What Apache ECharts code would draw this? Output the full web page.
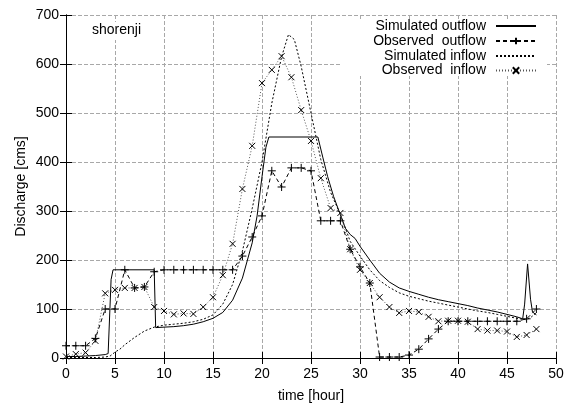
<!DOCTYPE html>
<html>
<head>
<meta charset="utf-8">
<script src="https://cdn.jsdelivr.net/npm/echarts@6/dist/echarts.min.js"></script>
<style>html,body{margin:0;padding:0;background:#fff;}#c{width:564px;height:405px;}</style>
</head>
<body>
<div id="c"></div>
<script>
var seriesNames = ['Simulated outflow', 'Observed  outflow', 'Simulated inflow', 'Observed  inflow'];
var xTicks = [0, 5, 10, 15, 20, 25, 30, 35, 40, 45, 50];
var yTicks = [0, 100, 200, 300, 400, 500, 600, 700];

var simOutT = [0,1,2,3,4,4.3,4.6,4.8,9.0,9.15,10,11,12,13,14,15,16,17,18,19,19.5,20,20.4,20.7,25.7,26.2,26.7,27.3,28,28.5,29,29.5,30,31,32,33,34,35,36,37,38,39,40,41,42,43,44,45,46,46.6,46.8,47.1,47.4,47.6,48];
var simOutV = [3,3,4,5,7,9,160,180,180,62,63,64,66,69,74,81,93,118,163,235,290,370,430,451,451,410,370,330,292,265,252,244,228,200,173,155,143,136,130,124,119,115,111,107,102,98,94,89,84,80,110,192,120,94,88];

var simInT = [0,1,2,3,4,4.5,5,5.5,6,7,8,9,10,11,12,13,14,15,16,17,18,19,20,21,22,22.7,23.3,24,25,26,27,28,29,30,31,32,33,34,35,36,37,38,39,40,41,42,43,44,45,46,47,47.5,48];
var simInV = [1,1,1,1,2,4,12,18,27,42,55,63,67,69,71,74,79,88,110,150,218,305,400,520,615,660,650,595,500,405,338,293,238,208,180,158,144,133,126,121,116,112,108,104,100,96,93,89,85,81,78,84,92];

var obsHours = [0,1,2,3,4,5,6,7,8,9,10,11,12,13,14,15,16,17,18,19,20,21,22,23,24,25,26,27,28,29,30,31,32,33,34,35,36,37,38,39,40,41,42,43,44,45,46,47,48];
var obsOut = [25,25,25,40,100,100,180,143,145,176,180,180,180,180,180,180,180,180,208,247,290,382,349,388,388,382,280,280,280,222,186,153,2,2,2,6,18,39,59,75,75,75,75,75,75,75,75,80,100];
var obsIn = [3,8,11,35,132,139,143,143,145,104,96,89,91,90,104,124,169,233,345,433,561,588,616,573,506,443,367,306,296,222,180,153,124,104,92,96,94,84,75,76,76,74,59,56,56,54,43,47,59];

function pairs(t, v) { return t.map(function (x, i) { return [x, v[i]]; }); }

var FONT = '"Liberation Sans", Arial, Helvetica, sans-serif';
var plus = 'path://M5,0L5,10M0,5L10,5';
var cross = 'path://M0,0L10,10M10,0L0,10';

var chart = echarts.init(document.getElementById('c'), null, {renderer: 'canvas'});
var axisCommon = {
  min: 0,
  axisLine: {show: true, lineStyle: {color: '#000', width: 1}},
  axisTick: {show: true, inside: true, length: 6, lineStyle: {color: '#000'}},
  axisLabel: {color: '#000', fontSize: 14, fontFamily: FONT}
};
function legendFor(name, top, hideSymbol) {
  var l = {
    data: [name], orient: 'vertical', right: 27, top: top, padding: 0,
    align: 'right', itemWidth: 40, itemHeight: 8, selectedMode: false,
    textStyle: {color: '#000', fontSize: 14, fontFamily: FONT, padding: [0, 5, 0, 0]}
  };
  if (hideSymbol) {
    l.itemStyle = {color: 'transparent', borderColor: 'transparent', borderWidth: 0};
  }
  return l;
}
var option = {
  animation: false,
  backgroundColor: '#fff',
  textStyle: {fontFamily: FONT},
  grid: {left: 66, right: 8, top: 15, bottom: 47, containLabel: false, outerBoundsMode: 'none'},
  graphic: [
    {type: 'rect', z: 1, shape: {x: 342, y: 20, width: 205, height: 56}, style: {fill: '#fff'}},
    {type: 'text', z: 3, left: 90, top: 22, style: {text: 'shorenji', fill: '#000', font: '14px ' + FONT, backgroundColor: '#fff', padding: [1, 2, 3, 2]}}
  ],
  legend: [
    legendFor(seriesNames[0], 19, true),
    legendFor(seriesNames[1], 34, false),
    legendFor(seriesNames[2], 49, true),
    legendFor(seriesNames[3], 63.5, false)
  ],
  xAxis: [
    Object.assign({}, axisCommon, {
      type: 'value', max: 50, interval: 5, position: 'bottom',
      name: 'time [hour]', nameLocation: 'middle', nameGap: 31,
      nameTextStyle: {color: '#000', fontSize: 14, fontFamily: FONT},
      axisLabel: Object.assign({}, axisCommon.axisLabel, {margin: 9, formatter: function (v) { return xTicks.indexOf(v) >= 0 ? String(v) : ''; }}),
      splitLine: {show: true, lineStyle: {color: '#a8a8a8', type: [4, 2], width: 1}}
    }),
    Object.assign({}, axisCommon, {
      type: 'value', max: 50, interval: 5, position: 'top',
      axisLabel: {show: false}, splitLine: {show: false}
    })
  ],
  yAxis: [
    Object.assign({}, axisCommon, {
      type: 'value', max: 700, interval: 100, position: 'left',
      name: 'Discharge [cms]', nameLocation: 'middle', nameGap: 38, nameRotate: 90, nameMoveOverlap: false,
      nameTextStyle: {color: '#000', fontSize: 14, fontFamily: FONT},
      axisLabel: Object.assign({}, axisCommon.axisLabel, {margin: 7, formatter: function (v) { return yTicks.indexOf(v) >= 0 ? String(v) : ''; }}),
      splitLine: {show: true, lineStyle: {color: '#a8a8a8', type: [4, 2], width: 1}}
    }),
    Object.assign({}, axisCommon, {
      type: 'value', max: 700, interval: 100, position: 'right',
      axisLabel: {show: false}, splitLine: {show: false}
    })
  ],
  series: [
    {
      name: seriesNames[0], type: 'line', xAxisIndex: 0, yAxisIndex: 0,
      data: pairs(simOutT, simOutV), showSymbol: false, symbol: 'none',
      lineStyle: {color: '#000', width: 1, type: 'solid'}, itemStyle: {color: '#000'}, z: 4
    },
    {
      name: seriesNames[1], type: 'line', xAxisIndex: 0, yAxisIndex: 0,
      data: pairs(obsHours, obsOut), symbol: plus, symbolSize: 8, showAllSymbol: true,
      lineStyle: {color: '#000', width: 1, type: [4, 3]},
      itemStyle: {color: 'transparent', borderColor: '#000', borderWidth: 1}, z: 4
    },
    {
      name: seriesNames[2], type: 'line', xAxisIndex: 0, yAxisIndex: 0,
      data: pairs(simInT, simInV), showSymbol: false, symbol: 'none',
      lineStyle: {color: '#000', width: 1, type: [2, 2]}, itemStyle: {color: '#000'}, z: 4
    },
    {
      name: seriesNames[3], type: 'line', xAxisIndex: 0, yAxisIndex: 0,
      data: pairs(obsHours, obsIn), symbol: cross, symbolSize: 6, showAllSymbol: true,
      lineStyle: {color: '#555', width: 1, type: [1, 2]},
      itemStyle: {color: 'transparent', borderColor: '#000', borderWidth: 1}, z: 4
    }
  ]
};
chart.setOption(option);
</script>
</body>
</html>
